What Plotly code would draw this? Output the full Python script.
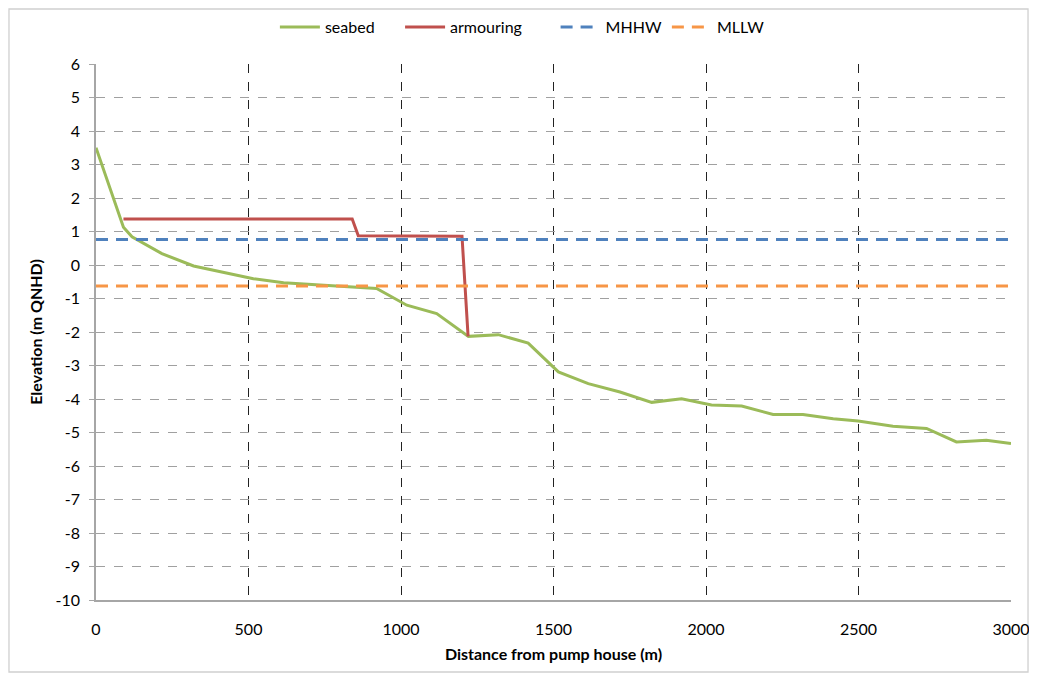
import plotly.graph_objects as go

# Data
seabed_x = [0, 90, 118, 216, 320, 516, 615, 920, 1019, 1117, 1221, 1319, 1417, 1516,
            1614, 1718, 1822, 1920, 2018, 2117, 2220, 2318, 2417, 2499, 2613, 2723,
            2821, 2919, 3000]
seabed_y = [3.5, 1.13, 0.84, 0.34, -0.03, -0.41, -0.53, -0.70, -1.20, -1.45, -2.13,
            -2.08, -2.33, -3.19, -3.54, -3.79, -4.10, -3.99, -4.18, -4.21, -4.46,
            -4.46, -4.59, -4.66, -4.81, -4.88, -5.28, -5.23, -5.33]
armour_x = [90, 840, 860, 1200, 1220]
armour_y = [1.37, 1.37, 0.87, 0.86, -2.13]
mhhw_x = [0, 3000]
mhhw_y = [0.76, 0.76]
mllw_x = [0, 3000]
mllw_y = [-0.63, -0.63]
x_ticks = [0, 500, 1000, 1500, 2000, 2500, 3000]
y_ticks = list(range(-10, 7))
series_names = ["seabed", "armouring", "MHHW", "MLLW"]

FONT = "Lato"
NB = "\u00a0"

fig = go.Figure()
fig.add_trace(go.Scatter(x=seabed_x, y=seabed_y, mode="lines", name=series_names[0] + NB * 5,
                         line=dict(color="#9BBB59", width=3)))
fig.add_trace(go.Scatter(x=armour_x, y=armour_y, mode="lines", name=series_names[1] + NB * 7,
                         line=dict(color="#C0504D", width=3)))
fig.add_trace(go.Scatter(x=mhhw_x, y=mhhw_y, mode="lines", name=series_names[2],
                         line=dict(color="#4F81BD", width=3, dash="12px,8px")))
fig.add_trace(go.Scatter(x=mllw_x, y=mllw_y, mode="lines", name=series_names[3],
                         line=dict(color="#F79646", width=3, dash="12px,8px")))

# outer chart border
fig.add_shape(type="rect", xref="paper", yref="paper",
              x0=-0.0951, x1=1.0186, y0=-0.1343, y1=1.1026,
              line=dict(color="#d0d0d0", width=1.3), layer="below")

fig.update_layout(
    width=1021, height=665,
    margin=dict(l=88, r=18, t=56, b=73, autoexpand=False),
    paper_bgcolor="white", plot_bgcolor="white",
    font=dict(family=FONT, size=16, color="#000"),
    showlegend=True,
    legend=dict(orientation="h", x=0.466, y=1.069, xanchor="center", yanchor="middle",
                font=dict(size=16), itemwidth=40, tracegroupgap=0),
    xaxis=dict(range=[0, 3000], tickvals=x_ticks, ticktext=[str(v) for v in x_ticks],
               showgrid=True, gridcolor="#222", griddash="dash", gridwidth=1,
               showline=True, linecolor="#a6a6a6", linewidth=1.5,
               ticks="", ticklabelstandoff=14, zeroline=False, automargin=False,
               ticklabeloverflow="allow",
               title=dict(text="<b>Distance from pump house (m)</b>", font=dict(size=16), standoff=12)),
    yaxis=dict(range=[-10, 6], tickvals=y_ticks, ticktext=[str(v) for v in y_ticks],
               showgrid=True, gridcolor="#a0a0a0", griddash="dash", gridwidth=1,
               showline=True, linecolor="#a6a6a6", linewidth=1.5,
               ticks="outside", ticklen=5, tickcolor="#a6a6a6", ticklabelstandoff=6,
               zeroline=False, automargin=False,
               title=dict(text="<b>Elevation (m QNHD)</b>", font=dict(size=16), standoff=9)),
)

fig.write_html("out.html")
